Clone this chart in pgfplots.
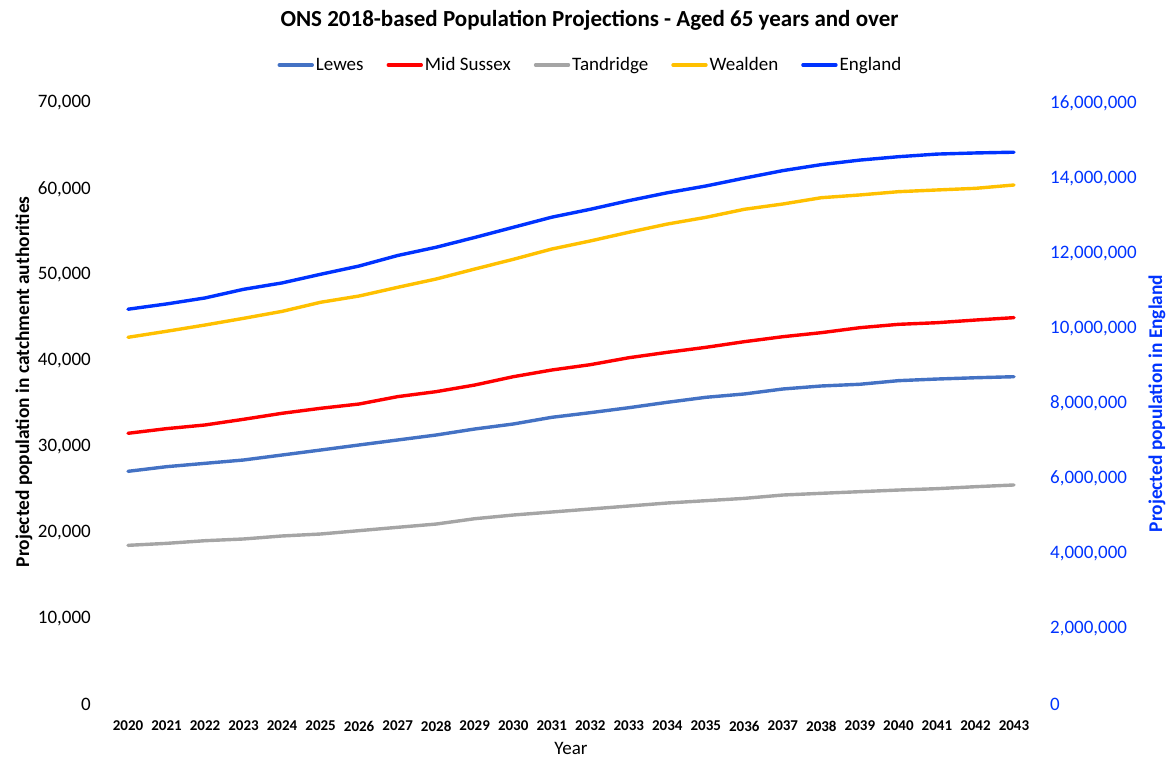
\documentclass[border=0pt]{standalone}
\usepackage{fontspec}
\setmainfont{Carlito}
\usepackage{pgfplots}
\usepackage{pgfplotstable}
\pgfplotsset{compat=1.18}

\definecolor{lewes}{HTML}{4472C4}
\definecolor{midsussex}{HTML}{FF0000}
\definecolor{tandridge}{HTML}{A5A5A5}
\definecolor{wealden}{HTML}{FFC000}
\definecolor{england}{HTML}{0033FF}

% Projected population aged 65 and over
\pgfplotstableread{
year lewes midsussex tandridge wealden england
2020 27100 31530 18480 42710 10510000
2021 27640 32070 18710 43410 10650000
2022 28030 32500 19020 44140 10810000
2023 28420 33160 19220 44920 11040000
2024 29000 33860 19570 45730 11210000
2025 29580 34440 19800 46790 11440000
2026 30170 34940 20190 47520 11660000
2027 30750 35800 20580 48530 11940000
2028 31330 36380 20960 49500 12160000
2029 32030 37150 21580 50660 12420000
2030 32610 38120 22010 51790 12690000
2031 33390 38900 22360 52990 12960000
2032 33930 39520 22710 53930 13170000
2033 34510 40330 23060 54940 13400000
2034 35140 40960 23410 55900 13610000
2035 35720 41540 23680 56680 13790000
2036 36110 42200 23950 57620 14000000
2037 36690 42780 24340 58235 14200000
2038 37040 43250 24540 58970 14360000
2039 37240 43830 24730 59290 14480000
2040 37660 44220 24920 59670 14570000
2041 37850 44410 25080 59870 14640000
2042 38000 44720 25310 60060 14670000
2043 38120 45000 25510 60450 14690000
}\pop

\pgfplotsset{
  popaxis/.style={
    at={(108.74pt,54pt)}, anchor=south west,
    scale only axis, width=924.5pt, height=601pt,
    xmin=2019.5, xmax=2043.5,
    axis line style={draw=none},
    major tick length=0pt,
    tick style={draw=none},
    font=\fontsize{19}{23}\selectfont,
    /pgf/number format/assume math mode=true,
    scaled y ticks=false,
    clip=false,
  },
  popline/.style={line width=3.4pt, line join=round, line cap=round},
}

\begin{document}
\begin{tikzpicture}
\path[use as bounding box] (0,0) rectangle (1166pt,758pt);

\begin{axis}[popaxis,
  ymin=0, ymax=70000,
  ytick={0,10000,20000,30000,40000,50000,60000,70000},
  yticklabels={0,{10,000},{20,000},{30,000},{40,000},{50,000},{60,000},{70,000}},
  yticklabel style={anchor=east, inner sep=0pt, xshift=-17.7pt},
  xtick={2020,2021,...,2043},
  xticklabel style={anchor=north, inner sep=0pt, yshift=-16.7pt,
    font=\bfseries\fontsize{15}{18}\selectfont,
    /pgf/number format/1000 sep={}},
  xlabel={Year},
  xlabel style={at={(axis description cs:0.5,-0.0732)}, anchor=center},
  ylabel={Projected population in catchment authorities},
  ylabel style={at={(axis description cs:-0.0917,0.536)}, anchor=center,
    font=\bfseries\fontsize{19.4}{23}\selectfont},
  title={ONS 2018-based Population Projections - Aged 65 years and over},
  title style={at={(axis description cs:0.520,1.128)}, anchor=center,
    font=\bfseries\fontsize{23}{27}\selectfont},
  legend columns=5,
  legend style={at={(axis description cs:0.521,1.0632)}, anchor=center,
    draw=none, fill=none, inner xsep=0pt, inner ysep=0pt,
    nodes={inner xsep=2pt, inner ysep=0pt},
    /tikz/every even column/.append style={column sep=21pt}},
  legend image code/.code={\draw[#1] (0pt,0pt) -- (33pt,0pt);},
]
\addplot[lewes, popline] table[x=year, y=lewes]{\pop};
\addlegendentry{Lewes}
\addplot[midsussex, popline] table[x=year, y=midsussex]{\pop};
\addlegendentry{Mid Sussex}
\addplot[tandridge, popline] table[x=year, y=tandridge]{\pop};
\addlegendentry{Tandridge}
\addplot[wealden, popline] table[x=year, y=wealden]{\pop};
\addlegendentry{Wealden}
\addlegendimage{england, popline}
\addlegendentry{England}
\end{axis}

\begin{axis}[popaxis,
  ymin=0, ymax=16000000,
  xtick=\empty,
  ytick pos=right, yticklabel pos=right,
  ytick={0,2000000,4000000,6000000,8000000,10000000,12000000,14000000,16000000},
  yticklabels={0,{2,000,000},{4,000,000},{6,000,000},{8,000,000},{10,000,000},{12,000,000},{14,000,000},{16,000,000}},
  yticklabel style={anchor=west, inner sep=0pt, xshift=16.7pt, text=england},
  ylabel={Projected population in England},
  ylabel style={at={(axis description cs:1.1339,0.5)}, anchor=center,
    rotate=0, text=england, font=\bfseries\fontsize{19.4}{23}\selectfont},
]
\addplot[england, popline] table[x=year, y=england]{\pop};
\end{axis}
\end{tikzpicture}
\end{document}
